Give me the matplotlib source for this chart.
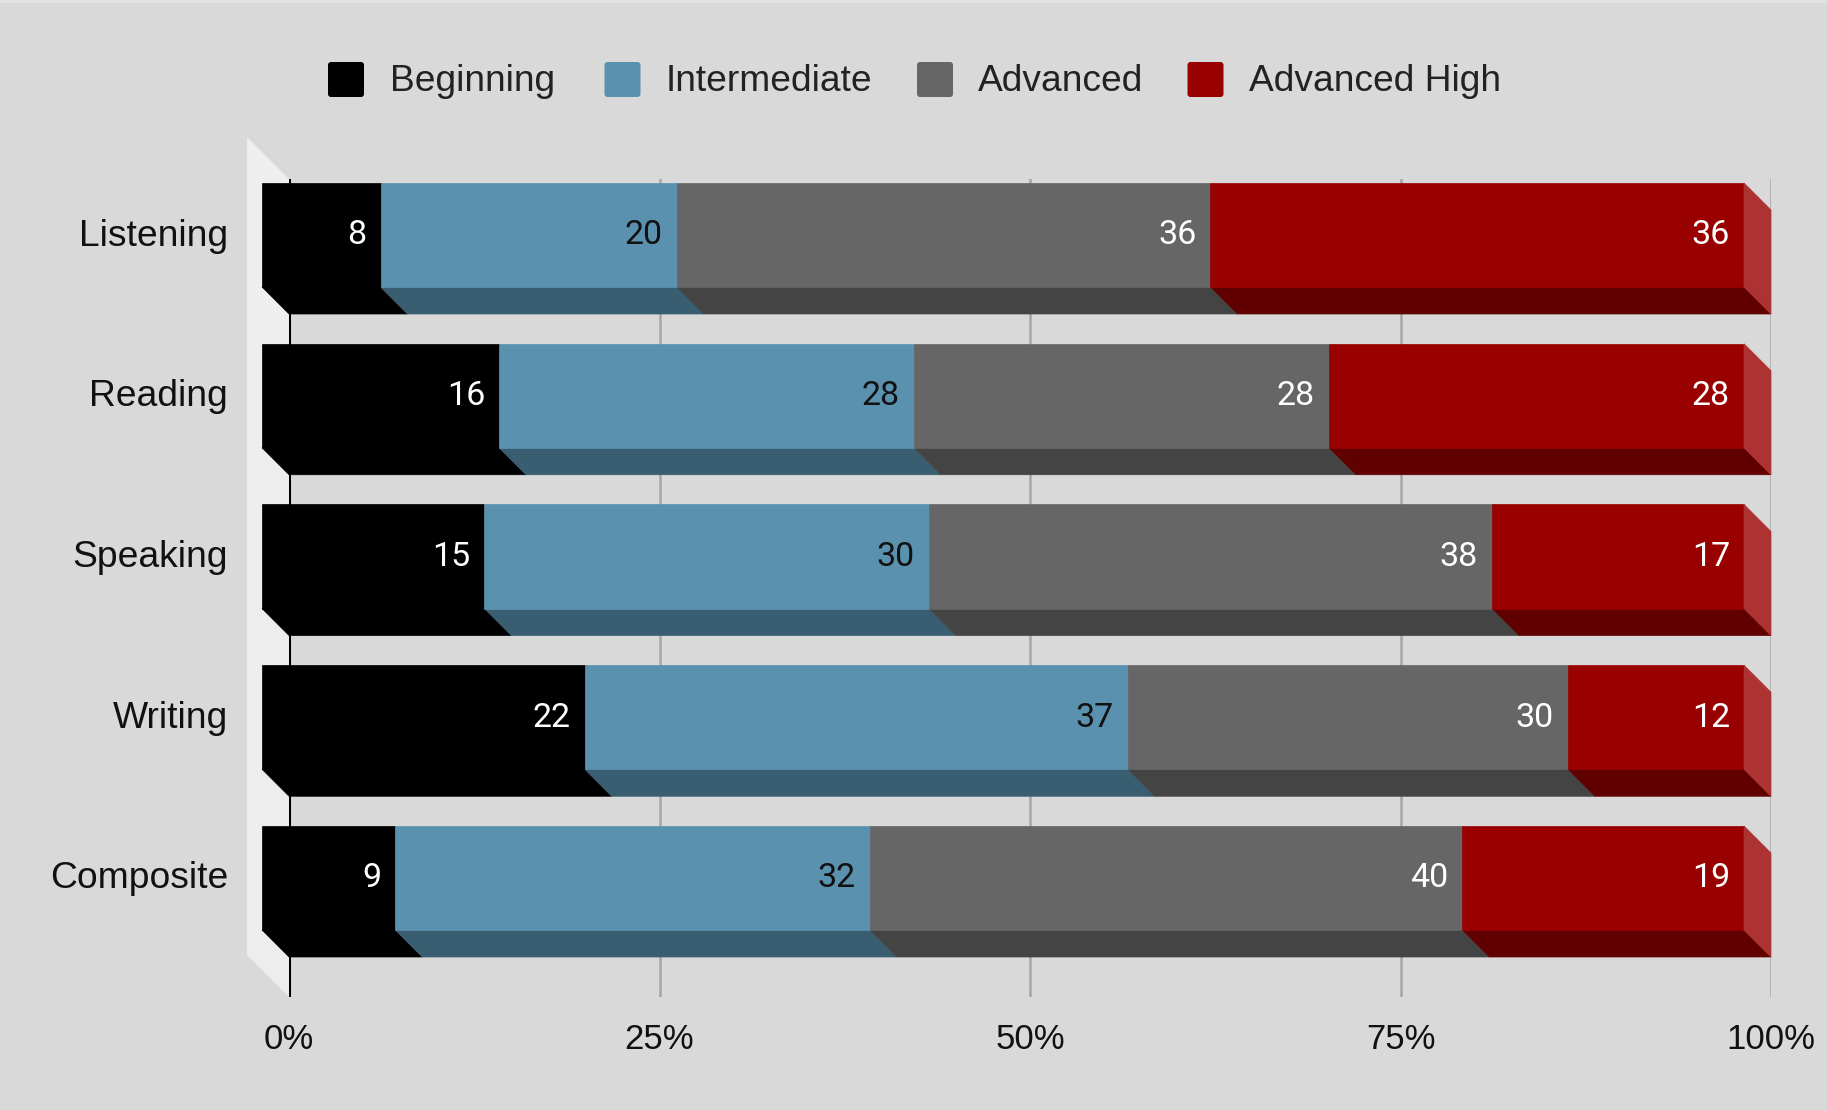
import matplotlib
matplotlib.use("Agg")
import matplotlib.pyplot as plt
from matplotlib.patches import Polygon, FancyBboxPatch
import numpy as np

# ---- data ----
categories = ["Listening", "Reading", "Speaking", "Writing", "Composite"]
series_names = ["Beginning", "Intermediate", "Advanced", "Advanced High"]
beginning = [8, 16, 15, 22, 9]
intermediate = [20, 28, 30, 37, 32]
advanced = [36, 28, 38, 30, 40]
advanced_high = [36, 28, 17, 12, 19]
tick_values = [0, 25, 50, 75, 100]
tick_labels = ["0%", "25%", "50%", "75%", "100%"]

# ---- style ----
front_colors = ["#000000", "#5a91af", "#666666", "#990000"]
bottom_colors = ["#000000", "#3a5e71", "#444444", "#600000"]
side_colors = ["#333333", "#7aa7c0", "#858585", "#ad3333"]
label_colors = ["#ffffff", "#111111", "#ffffff", "#ffffff"]
bg = "#d9d9d9"

W, H = 1827, 1110
fig = plt.figure(figsize=(W / 100, H / 100), dpi=100, facecolor=bg)

# axes region (back plane) in pixels
x0p, x1p, y0p, y1p = 289, 1771, 179, 997
ax = fig.add_axes([x0p / W, 1 - y1p / H, (x1p - x0p) / W, (y1p - y0p) / H])
ax.set_facecolor(bg)
ax.patch.set_alpha(0)
for s in ax.spines.values():
    s.set_visible(False)

px_per_pct = (x1p - x0p) / 100.0
px_per_unit = 160.75
ax.set_xlim(0, 100)
top = -(262 - y0p) / px_per_unit
ax.set_ylim(top + (y1p - y0p) / px_per_unit, top)

DX = 27 / px_per_pct
DY = 27 / px_per_unit
half = 52 / px_per_unit
text_lift = 3 / px_per_unit

# left wall
wdx = 42 / px_per_pct
wdy = 42 / px_per_unit
ylo, yhi = ax.get_ylim()
wall = Polygon([(-wdx, yhi - wdy), (0, yhi), (0, ylo), (-wdx, ylo - wdy)],
               closed=True, facecolor="#eeeeee", edgecolor="none", clip_on=False, zorder=0)
ax.add_patch(wall)

# gridlines
for t in tick_values:
    if t == 0:
        ax.axvline(t, color="#000000", lw=2.2, zorder=1)
    else:
        ax.axvline(t, color="#a6a6a6", lw=1.8, zorder=1)

data = np.array([beginning, intermediate, advanced, advanced_high], dtype=float)
totals = data.sum(axis=0)

for i, cat in enumerate(categories):
    ybt, ybb = i - half, i + half          # back face top/bottom
    yft, yfb = ybt - DY, ybb - DY          # front face top/bottom
    left = 0.0
    for k in range(len(series_names)):
        v = data[k, i]
        w = v / totals[i] * 100
        xb0, xb1 = left, left + w
        xf0, xf1 = xb0 - DX, xb1 - DX
        # bottom face
        ax.add_patch(Polygon([(xf0, yfb), (xf1, yfb), (xb1, ybb), (xb0, ybb)], closed=True,
                             facecolor=bottom_colors[k], edgecolor=bottom_colors[k], lw=0.5,
                             zorder=2, clip_on=False))
        # front face
        ax.add_patch(Polygon([(xf0, yft), (xf1, yft), (xf1, yfb), (xf0, yfb)], closed=True,
                             facecolor=front_colors[k], edgecolor=front_colors[k], lw=0.5,
                             zorder=3, clip_on=False))
        if k == len(series_names) - 1:
            ax.add_patch(Polygon([(xf1, yft), (xb1, ybt), (xb1, ybb), (xf1, yfb)], closed=True,
                                 facecolor=side_colors[k], edgecolor=side_colors[k], lw=0.5,
                                 zorder=3, clip_on=False))
        ax.text(xf1 - 14 / px_per_pct, (yft + yfb) / 2 - text_lift, f"{int(v)}",
                ha="right", va="center_baseline", fontsize=24.5, family="Roboto",
                color=label_colors[k], zorder=4)
        left += w

# ticks
ax.set_xticks(tick_values)
ax.set_xticklabels(tick_labels, fontsize=25, family="Liberation Sans", color="#111111")
ax.tick_params(axis="x", length=0, pad=19)
ax.set_yticks([i - DY - text_lift for i in range(len(categories))])
ax.set_yticklabels(categories, fontsize=26.8, family="Liberation Sans", color="#111111")
ax.tick_params(axis="y", length=0, pad=44)
for lab in ax.get_yticklabels():
    lab.set_verticalalignment("center_baseline")

# legend (manual, pixel layout)
lax = fig.add_axes([0, 0, 1, 1])
lax.set_xlim(0, W)
lax.set_ylim(H, 0)
lax.axis("off")
lax.patch.set_alpha(0)
sq_x = [328, 604.5, 917, 1187.5]
tx_x = [390, 666, 978, 1249]
for k, name in enumerate(series_names):
    lax.add_patch(FancyBboxPatch((sq_x[k] + 3, 65), 30, 29,
                                 boxstyle="round,pad=3", facecolor=front_colors[k],
                                 edgecolor="none"))
    lax.text(tx_x[k], 77.5, name, ha="left", va="center_baseline", fontsize=26.7,
             family="Liberation Sans", color="#222222")
# top border strip
lax.add_patch(plt.Rectangle((0, 0), W, 3, facecolor="#e2e2e2", edgecolor="none"))

fig.savefig("out.png", dpi=100, facecolor=bg)
